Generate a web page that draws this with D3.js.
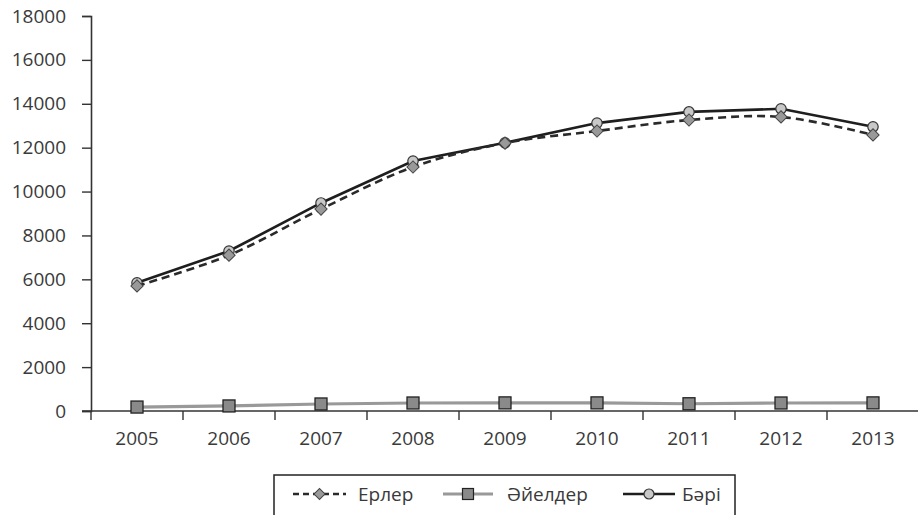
<!DOCTYPE html>
<html><head><meta charset="utf-8">
<script src="https://cdn.jsdelivr.net/npm/d3@7"></script>
<style>
body{margin:0;background:#fff;}
svg{display:block;font-family:"Open Sans",sans-serif;}
</style></head>
<body><svg id="c" width="918" height="515"></svg>
<script>
const years = ["2005","2006","2007","2008","2009","2010","2011","2012","2013"];
const men   = [5700,7100,9200,11120,12210,12760,13260,13400,12580];
const women = [180,230,320,365,370,370,330,365,370];
const total = [5840,7290,9480,11390,12220,13120,13630,13770,12950];
const yTicks = [0,2000,4000,6000,8000,10000,12000,14000,16000,18000];
const names = ["Ерлер","Әйелдер","Бәрі"];

const svg = d3.select("#c");
const x = d3.scaleBand().domain(years).range([91,919]).padding(0);
const y = d3.scaleLinear().domain([0,18000]).range([411,16]);
const cx = d => x(d) + x.bandwidth()/2;
const axisColor = "#333";

// Y axis
const ya = svg.append("g").attr("transform","translate(91,0)")
  .call(d3.axisLeft(y).tickValues(yTicks).tickSize(9).tickPadding(16).tickFormat(d3.format("d")));
ya.select(".domain").attr("stroke",axisColor).attr("stroke-width",1.6);
ya.selectAll(".tick line").attr("stroke",axisColor).attr("stroke-width",1.4);
ya.selectAll(".tick text").attr("fill","#3a3a3a").style("font-size","19px").style("font-family","'Open Sans',sans-serif");

// X axis
const xa = svg.append("g").attr("transform","translate(0,411)")
  .call(d3.axisBottom(x).tickSize(0).tickPadding(21).tickSizeOuter(0));
xa.select(".domain").attr("stroke",axisColor).attr("stroke-width",1.6).attr("d","M82,0H918");
xa.selectAll(".tick text").attr("fill","#3a3a3a").style("font-size","19px").style("font-family","'Open Sans',sans-serif");
const bounds = years.map(d => x(d)).concat([x(years[years.length-1]) + x.bandwidth()]);
xa.selectAll("line.bt").data(bounds).join("line").attr("class","bt")
  .attr("x1",d=>d).attr("x2",d=>d).attr("y1",0).attr("y2",9)
  .attr("stroke",axisColor).attr("stroke-width",1.4);

const line = d3.line().x((d,i)=>cx(years[i])).y(d=>y(d));
const smooth = d3.line().x((d,i)=>cx(years[i])).y(d=>y(d)).curve(d3.curveCardinal.tension(0));

// Бәрі
svg.append("path").datum(total).attr("d",line).attr("fill","none")
  .attr("stroke","#1e1e1e").attr("stroke-width",2.6);
svg.selectAll("circle.t").data(total).join("circle").attr("class","t")
  .attr("cx",(d,i)=>cx(years[i])).attr("cy",d=>y(d)).attr("r",5.2)
  .attr("fill","#c8c8c8").attr("stroke","#333").attr("stroke-width",1.2);

// Ерлер
svg.append("path").datum(men).attr("d",smooth).attr("fill","none")
  .attr("stroke","#2a2a2a").attr("stroke-width",2.6).attr("stroke-dasharray","8,5");
svg.selectAll("path.m").data(men).join("path").attr("class","m")
  .attr("d",d3.symbol().type(d3.symbolSquare).size(75))
  .attr("transform",(d,i)=>`translate(${cx(years[i])},${y(d)}) rotate(45)`)
  .attr("fill","#999").attr("stroke","#444").attr("stroke-width",1);

// Әйелдер
svg.append("path").datum(women).attr("d",line).attr("fill","none")
  .attr("stroke","#999").attr("stroke-width",3.2);
svg.selectAll("rect.w").data(women).join("rect").attr("class","w")
  .attr("x",(d,i)=>cx(years[i])-6).attr("y",d=>y(d)-6).attr("width",12).attr("height",12)
  .attr("fill","#8a8a8a").attr("stroke","#222").attr("stroke-width",1.3);

// Legend
const lg = svg.append("g");
lg.append("rect").attr("x",274).attr("y",475).attr("width",461).attr("height",50)
  .attr("fill","#fff").attr("stroke","#222").attr("stroke-width",1.5);
const ly = 494;
const items = [
  {x1:293,x2:346,tx:358,dash:"6,4",color:"#2a2a2a",w:2.4,mark:"d"},
  {x1:443,x2:493,tx:507,dash:null,color:"#999",w:3,mark:"s"},
  {x1:623,x2:675,tx:682,dash:null,color:"#1e1e1e",w:2.4,mark:"c"}
];
items.forEach((it,k)=>{
  const l = lg.append("line").attr("x1",it.x1).attr("x2",it.x2).attr("y1",ly).attr("y2",ly)
    .attr("stroke",it.color).attr("stroke-width",it.w);
  if(it.dash) l.attr("stroke-dasharray",it.dash);
  const mx=(it.x1+it.x2)/2;
  if(it.mark==="d") lg.append("path").attr("d",d3.symbol().type(d3.symbolSquare).size(60)())
    .attr("transform",`translate(${mx},${ly}) rotate(45)`).attr("fill","#999").attr("stroke","#444");
  if(it.mark==="s") lg.append("rect").attr("x",mx-5.5).attr("y",ly-5.5).attr("width",11).attr("height",11)
    .attr("fill","#8a8a8a").attr("stroke","#222").attr("stroke-width",1.2);
  if(it.mark==="c") lg.append("circle").attr("cx",mx).attr("cy",ly).attr("r",5)
    .attr("fill","#c8c8c8").attr("stroke","#333").attr("stroke-width",1.2);
  lg.append("text").attr("x",it.tx).attr("y",ly).attr("dy","0.35em").attr("fill","#3a3a3a")
    .style("font-size","19px").text(names[k]);
});
</script></body></html>
